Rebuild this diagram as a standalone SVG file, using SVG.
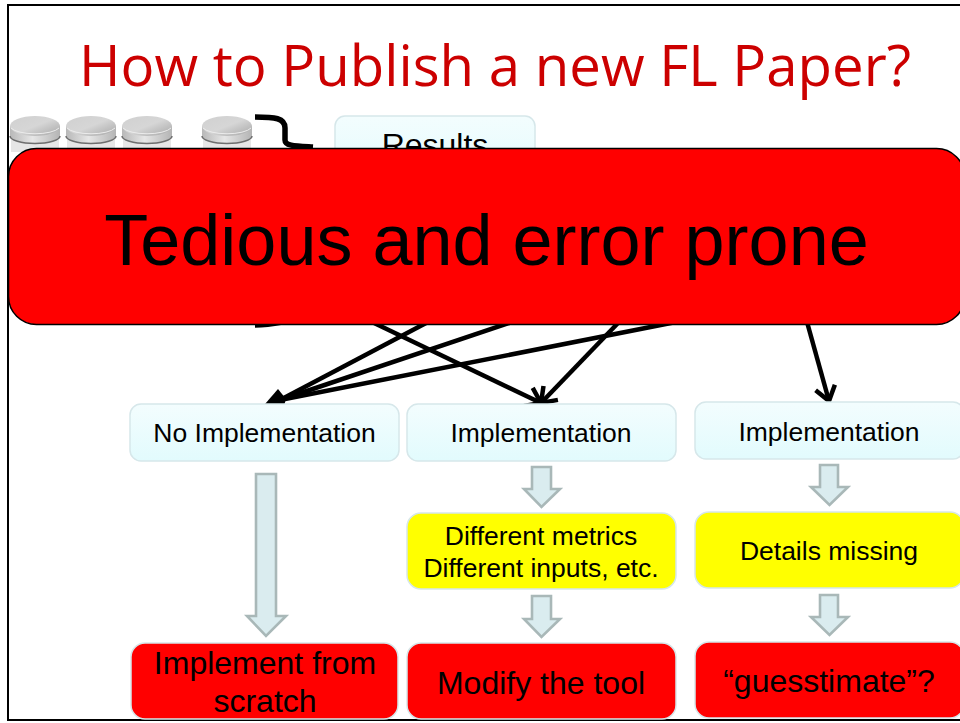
<svg xmlns="http://www.w3.org/2000/svg" width="960" height="723" viewBox="0 0 960 723">
<style>
text{font-family:"Liberation Sans",Arial,sans-serif;fill:#000;text-anchor:middle}
.title{font-family:"Open Sans","Noto Sans",sans-serif;font-size:57px;fill:#cc0000;text-anchor:start}
.blue{fill:url(#blueG);stroke:#d6e7ea;stroke-width:1.5}
.yellow{fill:#ffff00;stroke:#d6e7ea;stroke-width:1.5}
.red{fill:#ff0000;stroke:#d6e7ea;stroke-width:1.5}
.t26{font-size:26.500px}
.t31{font-size:32px}
.block{fill:#daecef;stroke:#a9b8b8;stroke-width:2.6}
.line{fill:none;stroke:#000;stroke-width:4.500}
.arrow{fill:none;stroke:#000;stroke-width:4.500;marker-end:url(#open)}
.brace{fill:none;stroke:#000;stroke-width:5.500}
</style>
<defs>
<linearGradient id="blueG" x1="0" y1="0" x2="0" y2="1"><stop offset="0" stop-color="#f3fdfe"/><stop offset="1" stop-color="#e2fbfd"/></linearGradient>
<linearGradient id="diskTop" x1="0" y1="0" x2="1" y2="1"><stop offset="0" stop-color="#d0d0d0"/><stop offset="0.5" stop-color="#d6d6d6"/><stop offset="1" stop-color="#a6a6a6"/></linearGradient>
<linearGradient id="diskSide" x1="0" y1="0" x2="1" y2="0"><stop offset="0" stop-color="#b8b8b8"/><stop offset="0.45" stop-color="#e6e6e6"/><stop offset="1" stop-color="#b4b4b4"/></linearGradient>
<marker id="open" markerUnits="userSpaceOnUse" markerWidth="28" markerHeight="28" refX="20" refY="14" orient="auto"><path d="M6 4L20 14L6 24" fill="none" stroke="#000" stroke-width="4.500"/></marker>
<g id="disk">
<path d="M1 24V36H49V24Z" fill="#e6e6e6"/>
<path d="M0 10V20A25 7.500 0 0 0 50 20V10Z" fill="url(#diskSide)"/>
<path d="M0 20A25 7.500 0 0 0 50 20" fill="none" stroke="#6e6e6e" stroke-width="1.500"/>
<ellipse cx="25" cy="10" rx="25" ry="10" fill="url(#diskTop)"/>
<path d="M1 12A25 8 0 0 0 49 12" fill="none" stroke="#ececec" stroke-width="1"/>
</g>
</defs>
<rect width="960" height="723" fill="#fff"/>
<rect id="frame" x="8" y="5" width="970" height="715" fill="none" stroke="#000" stroke-width="2"/>
<g id="title-text"><text class="title" x="79" y="86" textLength="832" lengthAdjust="spacingAndGlyphs">How to Publish a new FL Paper?</text></g>
<g id="databases">
<use href="#disk" x="10" y="116"/>
<use href="#disk" x="66" y="116"/>
<use href="#disk" x="122" y="116"/>
<use href="#disk" x="202" y="116"/>
</g>
<g id="results">
<rect class="blue" x="335" y="116" width="200" height="70" rx="10"/>
<text x="435" y="156" font-size="32">Results</text>
</g>
<g id="connectors">
<path class="brace" d="M255 117C275 117 285 118 285 128V140C285 146 295 146 313 147"/>
<path class="brace" d="M255 325C265 325 272 324 282 322"/>
<path class="line" d="M428 322L280 400"/>
<path class="line" d="M512 322L280 400"/>
<path class="line" d="M676 322L280 400"/>
<path d="M265 404L278 389L286 399L283 409Z" fill="#000"/>
<path class="arrow" d="M372 322L541 403"/>
<path class="arrow" d="M619 322L541 403"/>
<path class="arrow" d="M807 322L829 401"/>
<path class="block" d="M256 474H276V616H286L266 636L247 616H256Z"/>
<path class="block" d="M532 467H551V489H560L541.500 507L524 489H532Z"/>
<path class="block" d="M532 596H551V619H560L541.500 637L524 619H532Z"/>
<path class="block" d="M820 465H838V487H848L829.500 505L811 487H820Z"/>
<path class="block" d="M820 595H838V617H848L829.500 635L811 617H820Z"/>
</g>
<g id="no-impl"><rect class="blue" x="130" y="404" width="269" height="57" rx="11"/><text class="t26" x="264.500" y="442">No Implementation</text></g>
<g id="impl-a"><rect class="blue" x="407" y="404" width="269" height="57" rx="11"/><text class="t26" x="541" y="442">Implementation</text></g>
<g id="impl-b"><rect class="blue" x="695" y="402" width="269" height="57" rx="11"/><text class="t26" x="829" y="441">Implementation</text></g>
<g id="metrics"><rect class="yellow" x="407" y="513" width="269" height="76" rx="14"/><text class="t26" x="541" y="545">Different metrics</text><text class="t26" x="541" y="577">Different inputs, etc.</text></g>
<g id="details"><rect class="yellow" x="695" y="512" width="269" height="76" rx="14"/><text class="t26" x="829" y="560">Details missing</text></g>
<g id="scratch"><rect class="red" x="131" y="643" width="267" height="76" rx="14"/><text class="t31" x="265" y="674">Implement from</text><text class="t31" x="265" y="712">scratch</text></g>
<g id="modify"><rect class="red" x="407" y="643" width="269" height="76" rx="14"/><text class="t31" x="541" y="694">Modify the tool</text></g>
<g id="guess"><rect class="red" x="695" y="642" width="269" height="76" rx="14"/><text class="t31" x="829" y="692">“guesstimate”?</text></g>
<g id="banner"><rect x="8.500" y="148.500" width="956" height="176" rx="28" fill="#ff0000" stroke="#000" stroke-width="1.500"/><text x="486.500" y="265" font-size="72">Tedious and error prone</text></g>
</svg>
